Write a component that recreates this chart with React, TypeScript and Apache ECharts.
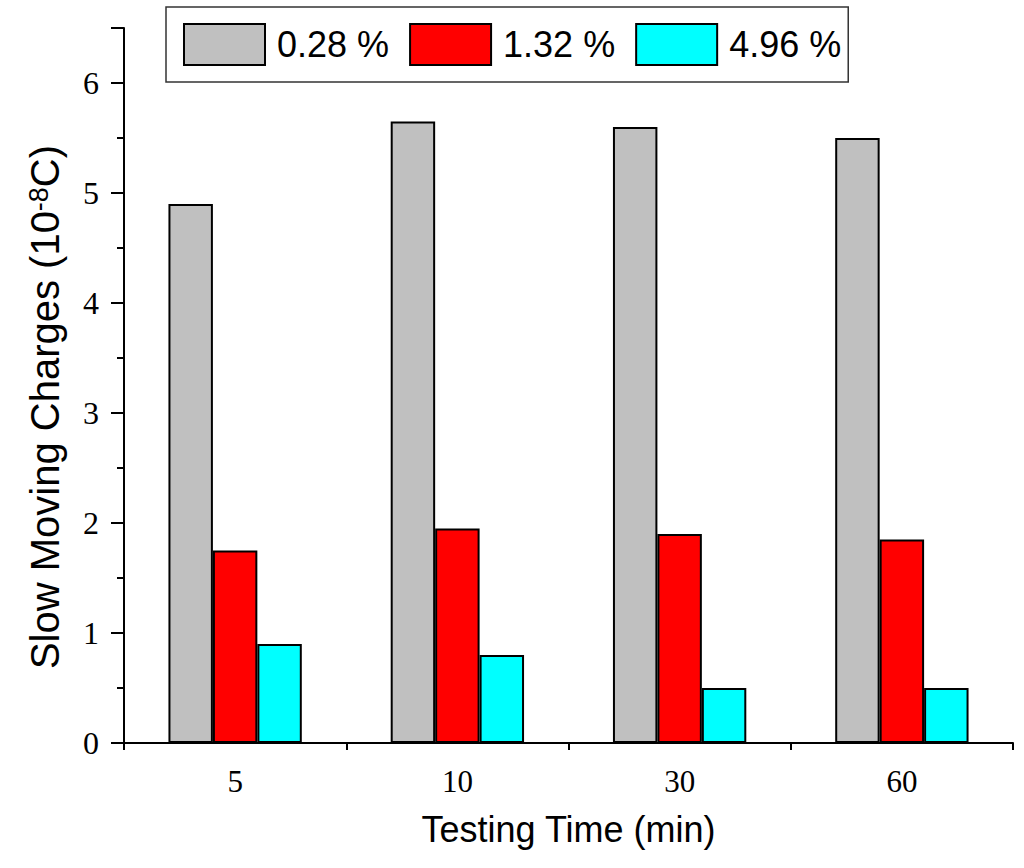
import React, { useEffect, useRef } from "react";
import * as echarts from "echarts";

const categories = ["5", "10", "30", "60"];
const seriesNames = ["0.28 %", "1.32 %", "4.96 %"];
const series028 = [4.9, 5.65, 5.6, 5.5];
const series132 = [1.75, 1.95, 1.9, 1.85];
const series496 = [0.9, 0.8, 0.5, 0.5];
const colors = ["#C0C0C0", "#FF0000", "#00FFFF"];
const yTitle = "Slow Moving Charges (10{sup|-8}C)";
const xTitle = "Testing Time (min)";

const SERIF = "'Liberation Serif', 'Times New Roman', serif";
const SANS = "'Liberation Sans', Arial, sans-serif";

export default function App() {
  const ref = useRef<HTMLDivElement>(null);
  useEffect(() => {
    if (!ref.current) return;
    const chart = echarts.init(ref.current, null, { renderer: "svg" });
    const data = [series028, series132, series496];
    chart.setOption({
      animation: false,
      backgroundColor: "#ffffff",
      legend: {
        left: 166,
        top: 7,
        orient: "horizontal",
        itemWidth: 81,
        itemHeight: 41,
        itemGap: 20,
        padding: [16, 7, 16, 17],
        borderColor: "#333",
        borderWidth: 1.5,
        icon: "rect",
        textStyle: { fontFamily: SANS, fontSize: 36, color: "#000", padding: [0, 0, 0, 7] },
        data: seriesNames,
      },
      graphic: [
        {
          type: "text",
          x: 45,
          y: 407,
          rotation: Math.PI / 2,
          style: {
            text: yTitle,
            fontFamily: SANS,
            fontSize: 40,
            fill: "#000",
            align: "center",
            verticalAlign: "middle",
            rich: {
              sup: { fontFamily: SANS, fontSize: 27, fill: "#000", verticalAlign: "top", lineHeight: 27 },
            },
          },
        },
      ],
      grid: { left: 124, right: 11, top: 28, bottom: 125 },
      xAxis: [
        {
          type: "category",
          data: categories,
          position: "bottom",
          name: xTitle,
          nameLocation: "middle",
          nameGap: 68,
          nameTextStyle: { fontFamily: SANS, fontSize: 36, color: "#000" },
          axisLine: { lineStyle: { color: "#000", width: 2 } },
          axisTick: { alignWithLabel: true, length: 14, lineStyle: { color: "#000", width: 2 } },
          axisLabel: { fontFamily: SERIF, fontSize: 31, color: "#000", margin: 23 },
        },
        {
          type: "category",
          data: categories,
          position: "bottom",
          axisLine: { show: false },
          axisTick: { show: true, length: 7, lineStyle: { color: "#000", width: 2 } },
          axisLabel: { show: false },
        },
      ],
      yAxis: {
        type: "value",
        min: 0,
        max: 6.5,
        interval: 1,
        splitLine: { show: false },
        axisLine: { show: true, lineStyle: { color: "#000", width: 2 } },
        axisTick: { show: true, length: 13, lineStyle: { color: "#000", width: 2 } },
        minorTick: { show: true, splitNumber: 2, length: 7, lineStyle: { color: "#000", width: 2 } },
        axisLabel: {
          fontFamily: SERIF,
          fontSize: 32,
          color: "#000",
          margin: 25,
          formatter: (v: number) => (Number.isInteger(v) ? String(v) : ""),
        },
      },
      series: seriesNames.map((name, i) => ({
        name,
        type: "bar",
        data: data[i],
        barGap: "0%",
        barCategoryGap: "40%",
        itemStyle: { color: colors[i], borderColor: "#000", borderWidth: 2 },
      })),
    });
    return () => chart.dispose();
  }, []);
  return (
    <div
      ref={ref}
      style={{ position: "fixed", left: 0, top: 0, width: 1024, height: 868, background: "#fff" }}
    />
  );
}
